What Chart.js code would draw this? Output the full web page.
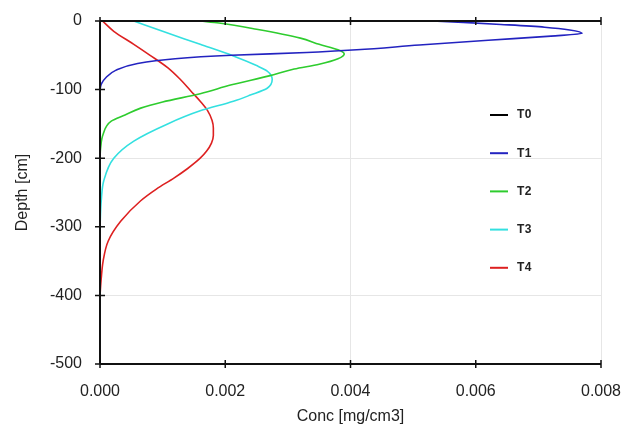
<!DOCTYPE html>
<html>
<head>
<meta charset="utf-8">
<script src="https://cdn.jsdelivr.net/npm/chart.js@4.4.0/dist/chart.umd.min.js"></script>
<style>
  html, body { margin: 0; padding: 0; background: #fff; }
  #wrap { width: 629px; height: 434px; }
</style>
</head>
<body>
<div id="wrap"><canvas id="mycanvas" width="629" height="434"></canvas></div>
<script>
// series labels and colours
var labels = ["T0", "T1", "T2", "T3", "T4"];
var colors = ["#000000", "#2323c0", "#2ecc2e", "#33e0e0", "#dd2020"];

// tick values
var concTicks = [0, 0.002, 0.004, 0.006, 0.008];
var depthTicks = [0, -100, -200, -300, -400, -500];

// depth [cm] / conc [mg/cm3] for each profile
var t0Depth = [0, 0];
var t0Conc  = [0, 0.008];

var t1Depth = [0, -2, -5, -9, -13, -18, -22, -28, -35, -42, -46, -50, -55, -62, -72, -82, -92, -100];
var t1Conc  = [0.0053, 0.0058, 0.0064, 0.0071, 0.0075, 0.0077, 0.0072, 0.0062, 0.0051, 0.0041, 0.0033, 0.0021, 0.0012, 0.0006, 0.00025, 0.0001, 0.00002, 0];

var t2Depth = [0, -3, -12, -25, -34, -42, -48, -55, -63, -70, -80, -93, -106, -118, -127, -137, -146, -165, -185, -200];
var t2Conc  = [0.0016, 0.0019, 0.0025, 0.0032, 0.0035, 0.0038, 0.0039, 0.0038, 0.0035, 0.0031, 0.0027, 0.0021, 0.0016, 0.0010, 0.00065, 0.0004, 0.00018, 0.00005, 0.00001, 0];

var t3Depth = [0, -15, -34, -51, -65, -73, -85, -98, -108, -117, -131, -150, -175, -200, -233, -262, -300];
var t3Conc  = [0.00054, 0.0010, 0.0016, 0.00213, 0.0025, 0.00267, 0.00275, 0.00267, 0.0024, 0.00213, 0.0016, 0.00108, 0.00054, 0.00022, 0.00006, 0.00002, 0];

var t4Depth = [0, -15, -34, -50, -68, -85, -102, -117, -131, -145, -156, -167, -178, -190, -200, -215, -229, -245, -262, -292, -321, -350, -375, -400];
var t4Conc  = [0.00004, 0.00022, 0.00054, 0.0008, 0.00108, 0.00128, 0.00145, 0.0016, 0.00172, 0.00179, 0.00181, 0.00181, 0.00178, 0.0017, 0.0016, 0.0014, 0.00118, 0.0009, 0.00065, 0.00033, 0.00013, 0.00005, 0.00002, 0];

var depths = [t0Depth, t1Depth, t2Depth, t3Depth, t4Depth];
var concs = [t0Conc, t1Conc, t2Conc, t3Conc, t4Conc];

var datasets = [];
for (var i = 0; i < labels.length; i++) {
    var pts = [];
    for (var j = 0; j < depths[i].length; j++) {
        pts.push({x: concs[i][j], y: depths[i][j]});
    }
    datasets.push({
        label: labels[i],
        data: pts,
        borderColor: colors[i],
        backgroundColor: colors[i],
        borderWidth: 1.6,
        pointRadius: 0,
        cubicInterpolationMode: 'monotone',
        fill: false
    });
}

function onStep(v, step) {
    return Math.abs(Math.round(v / step) * step - v) < 1e-9;
}

// wider text like the original
var spacingPlugin = {
    id: 'spacing',
    beforeInit: function(chart) { chart.ctx.letterSpacing = '1.5px'; }
};

// axis frame with crossing tick marks + legend inside the plot
var framePlugin = {
    id: 'frame',
    afterDatasetsDraw: function(chart) {
        var ctx = chart.ctx;
        var area = chart.chartArea;
        var xs = chart.scales.x, ys = chart.scales.y;
        ctx.save();
        ctx.strokeStyle = '#111';
        ctx.lineWidth = 2;
        ctx.beginPath();
        ctx.moveTo(area.left, area.top);
        ctx.lineTo(area.right, area.top);
        ctx.moveTo(area.left, area.bottom);
        ctx.lineTo(area.right, area.bottom);
        ctx.moveTo(area.left, area.top);
        ctx.lineTo(area.left, area.bottom);
        ctx.stroke();

        ctx.lineWidth = 1.5;
        ctx.beginPath();
        xs.ticks.forEach(function(t) {
            var px = xs.getPixelForValue(t.value);
            ctx.moveTo(px, area.top - 4);
            ctx.lineTo(px, area.top + 4);
            ctx.moveTo(px, area.bottom - 4);
            ctx.lineTo(px, area.bottom + 4);
        });
        ys.ticks.forEach(function(t) {
            var py = ys.getPixelForValue(t.value);
            ctx.moveTo(area.left - 5, py);
            ctx.lineTo(area.left + 5, py);
        });
        ctx.stroke();

        // legend
        ctx.letterSpacing = '0.5px';
        ctx.font = 'bold 12px "Liberation Sans", Arial, sans-serif';
        ctx.textBaseline = 'middle';
        chart.data.datasets.forEach(function(ds, k) {
            var y = 115 + k * 38.2;
            ctx.strokeStyle = ds.borderColor;
            ctx.lineWidth = 2;
            ctx.beginPath();
            ctx.moveTo(490, y);
            ctx.lineTo(508, y);
            ctx.stroke();
            ctx.fillStyle = '#222';
            ctx.fillText(ds.label, 517, y);
        });
        ctx.restore();
    }
};

var tickFont = {family: '"Liberation Sans", Arial, sans-serif', size: 16};

var myChart = new Chart(document.getElementById('mycanvas'), {
    type: 'line',
    data: {datasets: datasets},
    plugins: [spacingPlugin, framePlugin],
    options: {
        indexAxis: 'y',
        responsive: false,
        animation: false,
        layout: {padding: {top: 21, right: 28, left: 0, bottom: 0}},
        plugins: {
            legend: {display: false},
            tooltip: {enabled: false}
        },
        scales: {
            x: {
                type: 'linear',
                position: 'bottom',
                min: 0,
                max: 0.008,
                afterBuildTicks: function(scale) {
                    scale.ticks = concTicks.map(function(v) { return {value: v}; });
                },
                ticks: {
                    color: '#222',
                    font: tickFont,
                    padding: 18,
                    callback: function(v) { return v.toFixed(3); }
                },
                grid: {
                    drawTicks: false,
                    color: function(c) { return (c.tick && onStep(c.tick.value, 0.004) && c.tick.value > 0) ? '#e6e6e6' : 'rgba(0,0,0,0)'; }
                },
                border: {display: false},
                title: {
                    display: true,
                    text: 'Conc [mg/cm3]',
                    color: '#222',
                    font: tickFont,
                    padding: {top: 0, bottom: 8}
                },
                afterFit: function(scale) {
                    scale.height = 70;
                    scale.paddingLeft = 0;
                    scale.paddingRight = 0;
                }
            },
            y: {
                type: 'linear',
                position: 'left',
                min: -500,
                max: 0,
                afterBuildTicks: function(scale) {
                    scale.ticks = depthTicks.map(function(v) { return {value: v}; });
                },
                ticks: {
                    color: '#222',
                    font: tickFont,
                    padding: 18
                },
                grid: {
                    drawTicks: false,
                    color: function(c) { return (c.tick && onStep(c.tick.value, 200) && c.tick.value < 0) ? '#e6e6e6' : 'rgba(0,0,0,0)'; }
                },
                border: {display: false},
                title: {
                    display: true,
                    text: 'Depth [cm]',
                    color: '#222',
                    font: tickFont,
                    padding: {top: 13, bottom: 0}
                },
                afterFit: function(scale) {
                    scale.width = 100;
                    scale.paddingTop = 0;
                    scale.paddingBottom = 0;
                }
            }
        }
    }
});
</script>
</body>
</html>
